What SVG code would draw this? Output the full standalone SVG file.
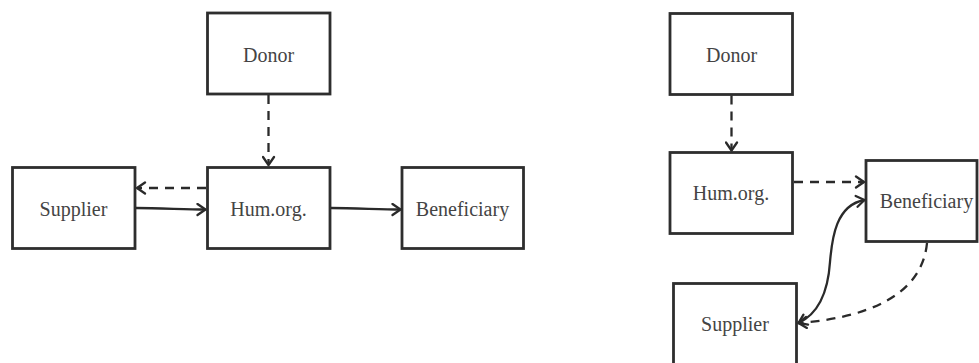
<svg xmlns="http://www.w3.org/2000/svg" width="979" height="363" viewBox="0 0 979 363">
  <style>
    .box { fill: #ffffff; stroke: #2e2e2e; stroke-width: 2.8; }
    .label { font-family: "Liberation Serif", "Times New Roman", serif; font-size: 20px; fill: #444444; text-anchor: middle; dominant-baseline: central; }
    .flow { fill: none; stroke: #2a2a2a; stroke-width: 2.3; }
    .dashed { stroke-dasharray: 9 7; }
  </style>
  <defs>
    <marker id="arrow" viewBox="-10 -7 12 14" markerWidth="12" markerHeight="14" refX="0" refY="0" orient="auto-start-reverse" markerUnits="userSpaceOnUse">
      <path d="M -8,-5.5 L 0,0 L -8,5.5" fill="none" stroke="#2a2a2a" stroke-width="2.3" stroke-linecap="round" stroke-linejoin="round" stroke-dasharray="none"/>
    </marker>
  </defs>
  <rect width="979" height="363" fill="#ffffff"/>

  <!-- Left model -->
  <g id="left-donor">
    <rect class="box" x="207.5" y="13" width="122.5" height="81"/>
    <text class="label" x="268.5" y="55">Donor</text>
  </g>
  <g id="left-humorg">
    <rect class="box" x="207.5" y="167.5" width="122.5" height="81"/>
    <text class="label" x="268.5" y="209">Hum.org.</text>
  </g>
  <g id="left-supplier">
    <rect class="box" x="12.5" y="167.5" width="122.5" height="81"/>
    <text class="label" x="73.5" y="209">Supplier</text>
  </g>
  <g id="left-beneficiary">
    <rect class="box" x="402" y="167.5" width="121.5" height="81"/>
    <text class="label" x="462.5" y="209">Beneficiary</text>
  </g>

  <!-- Right model -->
  <g id="right-donor">
    <rect class="box" x="670" y="13.5" width="122.5" height="81"/>
    <text class="label" x="731.5" y="55">Donor</text>
  </g>
  <g id="right-humorg">
    <rect class="box" x="670" y="152.5" width="122.5" height="81"/>
    <text class="label" x="731" y="193">Hum.org.</text>
  </g>
  <g id="right-beneficiary">
    <rect class="box" x="866" y="160.5" width="111" height="81"/>
    <text class="label" x="926.5" y="201">Beneficiary</text>
  </g>
  <g id="right-supplier">
    <rect class="box" x="673.5" y="283.5" width="123" height="85"/>
    <text class="label" x="735" y="324">Supplier</text>
  </g>

  <g id="connectors">
    <!-- left -->
    <path class="flow dashed" d="M 268.5,95 L 268.5,165" marker-end="url(#arrow)"/>
    <path class="flow dashed" d="M 206,188 L 137,188" marker-end="url(#arrow)"/>
    <path class="flow" d="M 136,208 C 160,208 185,209.5 205.5,209.5" marker-end="url(#arrow)"/>
    <path class="flow" d="M 331,208 C 355,208 380,209.5 400.5,209.5" marker-end="url(#arrow)"/>
    <!-- right -->
    <path class="flow dashed" d="M 731.5,95.5 L 731.5,150.5" marker-end="url(#arrow)"/>
    <path class="flow dashed" d="M 794,182 L 864,182" marker-end="url(#arrow)"/>
    <path class="flow" d="M 864.5,200 C 836,205 832,238 830,262 C 828,292 818,314 798.5,323" marker-start="url(#arrow)" marker-end="url(#arrow)"/>
    <path class="flow dashed" d="M 927,243 C 922,296 866,318 798.5,323" marker-end="url(#arrow)"/>
  </g>
</svg>
